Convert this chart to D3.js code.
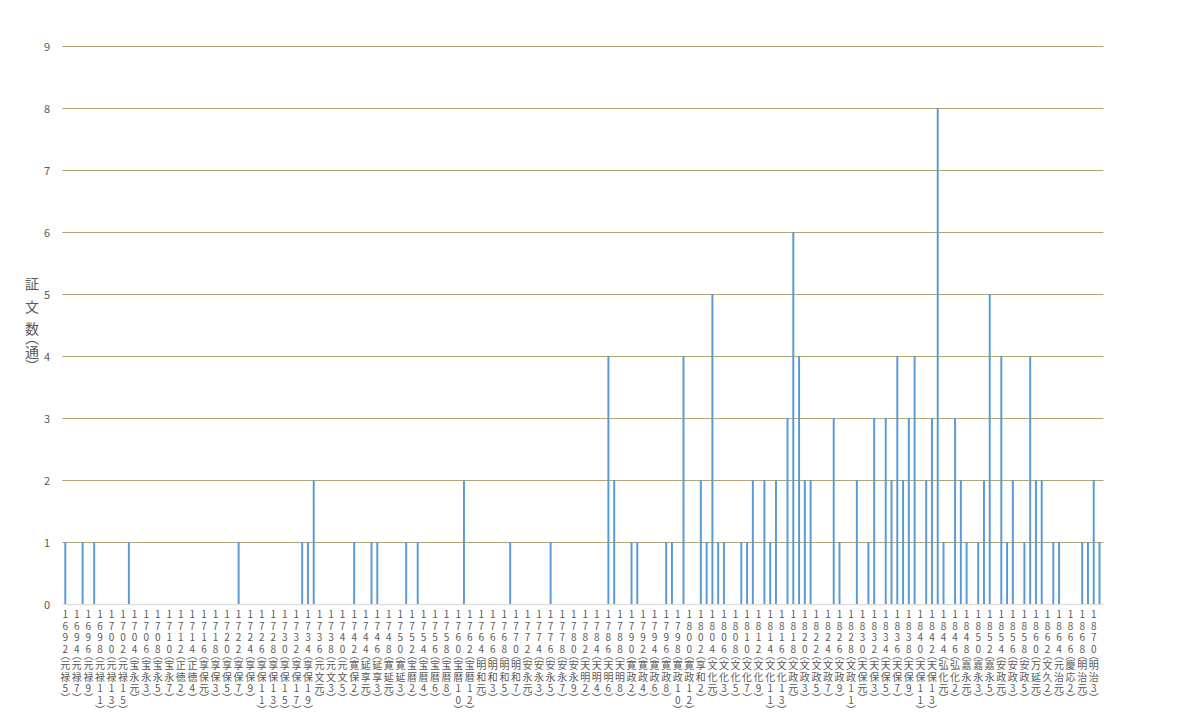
<!DOCTYPE html>
<html>
<head>
<meta charset="utf-8">
<script src="https://cdn.jsdelivr.net/npm/d3@7"></script>
<style>
  html, body { margin: 0; padding: 0; background: #ffffff; }
  svg { display: block; }
  text { font-family: "Noto Sans CJK JP", "Noto Sans", sans-serif; fill: #595959; }
  text.vert { writing-mode: vertical-rl; text-orientation: upright; }
</style>
</head>
<body>
<svg id="chart" width="1200" height="727"></svg>
<script>
// ---- data ----
const years = [
  1692,1693,1694,1695,1696,1697,1698,1699,
  1700,1701,1702,1703,1704,1705,1706,1707,1708,1709,
  1710,1711,1712,1713,1714,1715,1716,1717,1718,1719,
  1720,1721,1722,1723,1724,1725,1726,1727,1728,1729,
  1730,1731,1732,1733,1734,1735,1736,1737,1738,1739,
  1740,1741,1742,1743,1744,1745,1746,1747,1748,1749,
  1750,1751,1752,1753,1754,1755,1756,1757,1758,1759,
  1760,1761,1762,1763,1764,1765,1766,1767,1768,1769,
  1770,1771,1772,1773,1774,1775,1776,1777,1778,1779,
  1780,1781,1782,1783,1784,1785,1786,1787,1788,1789,
  1790,1791,1792,1793,1794,1795,1796,1797,1798,1799,
  1800,1801,1802,1803,1804,1805,1806,1807,1808,1809,
  1810,1811,1812,1813,1814,1815,1816,1817,1818,1819,
  1820,1821,1822,1823,1824,1825,1826,1827,1828,1829,
  1830,1831,1832,1833,1834,1835,1836,1837,1838,1839,
  1840,1841,1842,1843,1844,1845,1846,1847,1848,1849,
  1850,1851,1852,1853,1854,1855,1856,1857,1858,1859,
  1860,1861,1862,1863,1864,1865,1866,1867,1868,1869,
  1870,1871
];
const counts = [
  1,0,0,1,0,1,0,0,
  0,0,0,1,0,0,0,0,0,0,
  0,0,0,0,0,0,0,0,0,0,
  0,0,1,0,0,0,0,0,0,0,
  0,0,0,1,1,2,0,0,0,0,
  0,0,1,0,0,1,1,0,0,0,
  0,1,0,1,0,0,0,0,0,0,
  0,2,0,0,0,0,0,0,0,1,
  0,0,0,0,0,0,1,0,0,0,
  0,0,0,0,0,0,4,2,0,0,
  1,1,0,0,0,0,1,1,0,4,
  0,0,2,1,5,1,1,0,0,1,
  1,2,0,2,1,2,0,3,6,4,
  2,2,0,0,0,3,1,0,0,2,
  0,1,3,0,3,2,4,2,3,4,
  0,2,3,8,1,0,3,2,1,0,
  1,2,5,0,4,1,2,0,1,4,
  2,2,0,1,1,0,0,0,1,1,
  2,1
];
// tick labels (shown every second year): year + era name
const labelYears = [
  1692,1694,1696,1698,1700,1702,1704,1706,1708,1710,
  1712,1714,1716,1718,1720,1722,1724,1726,1728,1730,
  1732,1734,1736,1738,1740,1742,1744,1746,1748,1750,
  1752,1754,1756,1758,1760,1762,1764,1766,1768,1770,
  1772,1774,1776,1778,1780,1782,1784,1786,1788,1790,
  1792,1794,1796,1798,1800,1802,1804,1806,1808,1810,
  1812,1814,1816,1818,1820,1822,1824,1826,1828,1830,
  1832,1834,1836,1838,1840,1842,1844,1846,1848,1850,
  1852,1854,1856,1858,1860,1862,1864,1866,1868,1870
];
const eraNames = [
  "元禄5","元禄7","元禄9","元禄11","元禄13","元禄15","宝永元","宝永3","宝永5","宝永7",
  "正徳2","正徳4","享保元","享保3","享保5","享保7","享保9","享保11","享保13","享保15",
  "享保17","享保19","元文元","元文3","元文5","寛保2","延享元","延享3","寛延元","寛延3",
  "宝暦2","宝暦4","宝暦6","宝暦8","宝暦10","宝暦12","明和元","明和3","明和5","明和7",
  "安永元","安永3","安永5","安永7","安永9","天明2","天明4","天明6","天明8","寛政2",
  "寛政4","寛政6","寛政8","寛政10","寛政12","享和2","文化元","文化3","文化5","文化7",
  "文化9","文化11","文化13","文政元","文政3","文政5","文政7","文政9","文政11","天保元",
  "天保3","天保5","天保7","天保9","天保11","天保13","弘化元","弘化2","嘉永元","嘉永3",
  "嘉永5","安政元","安政3","安政5","万延元","文久2","元治元","慶応2","明治元","明治3"
];
const yTicks = [0,1,2,3,4,5,6,7,8,9];
const yTitleParts = ["証文", "数", "︵", "通", "︶"];

// ---- drawing ----
const svg = d3.select("#chart");
const plotLeft = 62.4, plotRight = 1102.4, plotTop = 46, plotBottom = 604;

const x = d3.scaleBand()
  .domain(years)
  .range([plotLeft, plotRight])
  .paddingInner(0.66)
  .paddingOuter(0.33);
const y = d3.scaleLinear().domain([0, 9]).range([plotBottom, plotTop]);

// gridlines
svg.append("g").selectAll("line")
  .data(yTicks.filter(d => d > 0))
  .join("line")
  .attr("x1", plotLeft).attr("x2", plotRight + 1)
  .attr("y1", d => y(d) + 0.5).attr("y2", d => y(d) + 0.5)
  .attr("stroke", "#b0a574").attr("stroke-width", 1);

// y tick labels
svg.append("g").selectAll("text")
  .data(yTicks)
  .join("text")
  .attr("x", 50).attr("y", d => y(d))
  .attr("text-anchor", "end")
  .attr("dominant-baseline", "central")
  .style("font-size", "11px")
  .text(d => d);

// bars
const data = years.map((yr, i) => ({year: yr, value: counts[i]}));
svg.append("g").selectAll("rect")
  .data(data.filter(d => d.value > 0))
  .join("rect")
  .attr("x", d => x(d.year))
  .attr("width", x.bandwidth())
  .attr("y", d => y(d.value))
  .attr("height", d => y(0) - y(d.value))
  .attr("fill", "#5b9bd5");

// baseline
svg.append("line")
  .attr("x1", plotLeft).attr("x2", plotRight + 1)
  .attr("y1", y(0) + 0.5).attr("y2", y(0) + 0.5)
  .attr("stroke", "#d9d9d9").attr("stroke-width", 1);

// x labels: vertical stacked text, one text element per label
const xl = svg.append("g");
labelYears.forEach((yr, i) => {
  const cx = x(yr) + x.bandwidth() / 2;
  const ys = String(yr);
  const era = eraNames[i];
  const t = xl.append("text")
    .attr("class", "vert")
    .attr("x", cx).attr("y", 609.5)
    .style("font-size", "10px");
  t.append("tspan").style("letter-spacing", "1.6px").text(ys.slice(0, -1));
  t.append("tspan").style("letter-spacing", "-4px").text(ys.slice(-1));
  t.append("tspan").style("letter-spacing", "0px").text("︵");
  t.append("tspan").style("letter-spacing", "1.6px").text(era.slice(0, -1));
  t.append("tspan").style("letter-spacing", "0px").text(era.slice(-1));
  t.append("tspan").text("︶");
});

// y axis title (vertical)
const tt = svg.append("text")
  .attr("class", "vert")
  .attr("x", 32).attr("y", 277)
  .style("font-size", "14px");
const titleSpacing = ["8.5px", "-5px", "0px", "0px", "0px"];
yTitleParts.forEach((s, i) => {
  tt.append("tspan").style("letter-spacing", titleSpacing[i]).text(s);
});
</script>
</body>
</html>
